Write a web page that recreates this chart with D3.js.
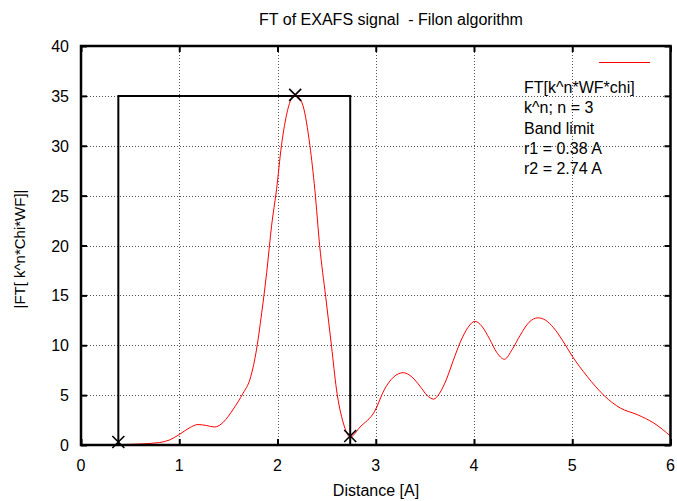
<!DOCTYPE html>
<html>
<head>
<meta charset="utf-8">
<script src="https://cdn.jsdelivr.net/npm/d3@7"></script>
<style>
  body { margin: 0; background: #fff; }
  text { font-family: "Liberation Sans", Arial, Helvetica, sans-serif; fill: #000; }
</style>
</head>
<body>
<svg width="677" height="501"></svg>
<script>
// distance r [A] and |FT| values
let distance = [0, 0.2, 0.4, 0.6, 0.8, 0.9, 1.0, 1.1, 1.19, 1.28, 1.36, 1.45, 1.55, 1.65, 1.72, 1.78,
    1.84, 1.89, 1.94, 1.99, 2.04, 2.09, 2.14, 2.18, 2.22, 2.26, 2.33, 2.38, 2.43, 2.49, 2.55, 2.60,
    2.67, 2.74, 2.84, 2.99, 3.09, 3.18, 3.28, 3.37, 3.45, 3.52, 3.59, 3.65, 3.72, 3.79, 3.86, 3.94,
    4.01, 4.08, 4.16, 4.23, 4.31, 4.39, 4.47, 4.56, 4.65, 4.73, 4.81, 4.90, 5.0, 5.15, 5.33, 5.49,
    5.66, 5.83, 6.0];
let ftValue = [0.02, 0.03, 0.05, 0.1, 0.25, 0.5, 1.05, 1.7, 2.05, 1.95, 1.8, 2.3, 3.6, 5.2, 6.6, 9.2,
    13.3, 17.3, 22.0, 25.6, 30.0, 33.0, 34.7, 35.1, 34.8, 34.0, 30.0, 25.6, 19.9, 14.9, 9.9, 5.6,
    2.2, 0.8, 1.8, 3.4, 5.6, 6.8, 7.25, 6.8, 5.9, 5.0, 4.6, 5.2, 6.6, 8.5, 10.3, 11.8,
    12.4, 11.9, 10.6, 9.3, 8.6, 9.6, 11.0, 12.3, 12.75, 12.5, 11.75, 10.5, 8.9, 6.9, 4.9, 3.7,
    3.05, 2.2, 0.9];

// band limit window and the X marks
let bandR = [0.38, 2.74];
let bandTop = 35.0;
let markR = [0.38, 2.18, 2.74];
let markV = [0.3, 35.1, 0.9];

let xTicks = [0, 1, 2, 3, 4, 5, 6];
let yTicks = [0, 5, 10, 15, 20, 25, 30, 35, 40];
let legendLines = ["FT[k^n*WF*chi]", "k^n; n = 3", "Band limit", "r1 = 0.38 A", "r2 = 2.74 A"];

let plotL = 81, plotR = 670.5, plotT = 46, plotB = 445;

let svg = d3.select("svg");

let x = d3.scaleLinear().domain([0, 6]).range([plotL, plotR]);
let y = d3.scaleLinear().domain([0, 40]).range([plotB, plotT]);

//grid
let grid = svg.append("g").attr("class", "grid")
    .attr("stroke", "#555").attr("stroke-width", 1).attr("stroke-dasharray", "1,2");
grid.selectAll("line.gx").data(xTicks.slice(1, -1)).enter().append("line")
    .attr("x1", d => Math.round(x(d)) + 0.5).attr("x2", d => Math.round(x(d)) + 0.5)
    .attr("y1", plotT).attr("y2", plotB);
grid.selectAll("line.gy").data(yTicks.slice(1, -1)).enter().append("line")
    .attr("y1", d => Math.round(y(d)) + 0.5).attr("y2", d => Math.round(y(d)) + 0.5)
    .attr("x1", plotL).attr("x2", plotR);

//ticks on all four sides, pointing inward
let axisB = d3.axisBottom(x).tickValues(xTicks).tickSize(-6).tickFormat("");
let axisT = d3.axisTop(x).tickValues(xTicks).tickSize(-6).tickFormat("");
let axisL = d3.axisLeft(y).tickValues(yTicks).tickSize(-6).tickFormat("");
let axisR = d3.axisRight(y).tickValues(yTicks).tickSize(-6).tickFormat("");
[[axisB, 0, plotB], [axisT, 0, plotT], [axisL, plotL, 0], [axisR, plotR, 0]].forEach(a => {
    let g = svg.append("g").attr("transform", "translate(" + a[1] + "," + a[2] + ")").call(a[0]);
    g.select(".domain").remove();
    g.selectAll("line").attr("stroke", "#000").attr("stroke-width", 2);
});

//tick labels
svg.append("g").selectAll("text").data(xTicks).enter().append("text")
    .attr("x", d => x(d)).attr("y", 471)
    .attr("text-anchor", "middle").attr("font-size", 16)
    .text(d => d);
svg.append("g").selectAll("text").data(yTicks).enter().append("text")
    .attr("x", 69).attr("y", d => y(d) + 6)
    .attr("text-anchor", "end").attr("font-size", 16)
    .text(d => d);

//band limit window
svg.append("path")
    .attr("d", d3.line()([[x(bandR[0]), y(0)], [x(bandR[0]), y(bandTop)], [x(bandR[1]), y(bandTop)], [x(bandR[1]), y(0)]]))
    .attr("fill", "none").attr("stroke", "#000").attr("stroke-width", 2);

//FT curve
let line = d3.line()
    .x((d, i) => x(distance[i]))
    .y(d => y(d))
    .curve(d3.curveMonotoneX);
svg.append("path")
    .datum(ftValue)
    .attr("d", line)
    .attr("fill", "none").attr("stroke", "#f00").attr("stroke-width", 1);

//X marks
let marks = svg.append("g").attr("stroke", "#000").attr("stroke-width", 1.6);
markR.forEach((r, i) => {
    let cx = x(r), cy = y(markV[i]), s = 6;
    marks.append("path").attr("d", "M" + (cx - s) + "," + (cy - s) + "L" + (cx + s) + "," + (cy + s)
        + "M" + (cx - s) + "," + (cy + s) + "L" + (cx + s) + "," + (cy - s));
});

//frame
svg.append("rect")
    .attr("x", plotL).attr("y", plotT).attr("width", plotR - plotL).attr("height", plotB - plotT)
    .attr("fill", "none").attr("stroke", "#000").attr("stroke-width", 2.5);

//legend
svg.append("line").attr("x1", 599).attr("x2", 650).attr("y1", 62.5).attr("y2", 62.5)
    .attr("stroke", "#f00").attr("stroke-width", 1);
svg.append("g").selectAll("text").data(legendLines).enter().append("text")
    .attr("x", 524).attr("y", (d, i) => 93 + i * 20.3)
    .attr("font-size", 16)
    .text(d => d);

//titles
svg.append("text").attr("x", 391).attr("y", 25).attr("text-anchor", "middle")
    .attr("font-size", 16).style("white-space", "pre").text("FT of EXAFS signal  - Filon algorithm");
svg.append("text").attr("x", 376).attr("y", 496).attr("text-anchor", "middle")
    .attr("font-size", 16).text("Distance [A]");
svg.append("text").attr("transform", "translate(25,249) rotate(-90)").attr("text-anchor", "middle")
    .attr("font-size", 15).text("|FT[ k^n*Chi*WF]|");
</script>
</body>
</html>
